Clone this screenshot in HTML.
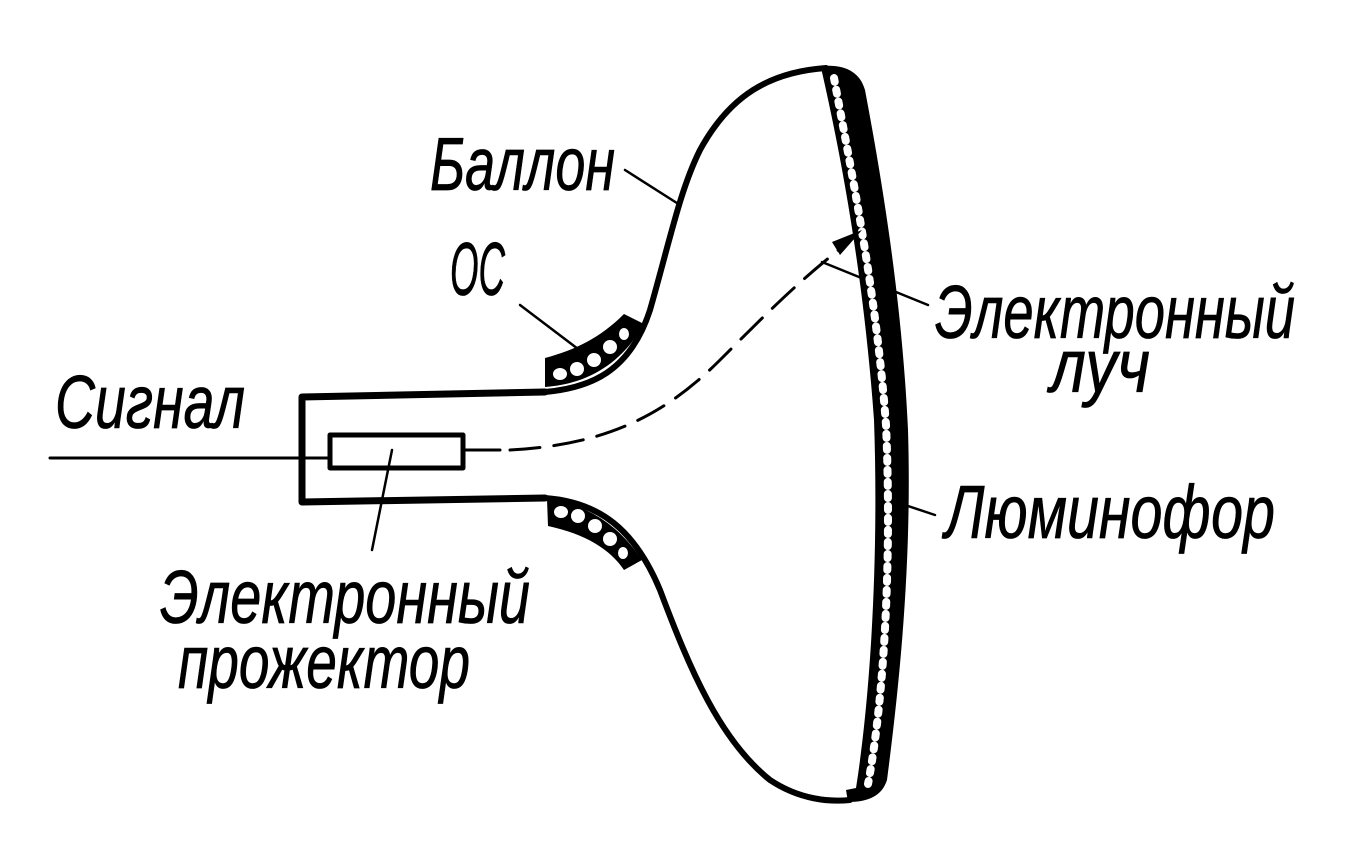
<!DOCTYPE html>
<html><head><meta charset="utf-8"><style>
html,body{margin:0;padding:0;background:#fff;}
svg{display:block;}
text{font-family:"Liberation Sans",sans-serif;font-style:italic;fill:#000;}
</style></head><body>
<svg width="1345" height="867" viewBox="0 0 1345 867" xmlns="http://www.w3.org/2000/svg">
<g fill="none" stroke="#000" stroke-linecap="round" stroke-linejoin="round">
<path d="M545,392 C590,388 630,372 650,310 C670,240 680,190 700,150 C730,95 770,72 826,68" stroke-width="6"/>
<path d="M545,498 C600,502 635,530 660,590 C690,670 720,740 770,780 C800,800 830,802 850,800" stroke-width="6"/>
<path d="M545,392 L302,397 L302,502 L545,498" stroke-width="7"/>
<rect x="330" y="435" width="133" height="33" stroke-width="5"/>
<path d="M50,458 L330,458" stroke-width="3"/>
<path d="M463,450 L500,450" stroke-width="3"/>
<path d="M510,450 C600,445 660,420 720,360 C770,310 800,280 845,245" stroke-width="3" stroke-dasharray="30 14"/>
<path d="M625,170 L680,205" stroke-width="2.5"/>
<path d="M520,305 L582,352" stroke-width="2.5"/>
<path d="M822,262 L928,305" stroke-width="2.5"/>
<path d="M905,505 L935,515" stroke-width="2.5"/>
<path d="M392,450 L372,550" stroke-width="2.5"/>
</g>
<path d="M822,66 C845,64 860,72 865,90 C882,180 902,300 908,430 C912,560 900,680 887,780 C882,796 868,802 848,802 L846,790 L856,788 C870,700 879,560 874,420 C864,280 842,160 822,72 Z" fill="#000"/>
<path d="M834,78 C851,170 876,290 886,425 C892,560 884,700 868,784" fill="none" stroke="#fff" stroke-width="8" stroke-linecap="round" stroke-dasharray="4 8"/>
<path d="M545,358 L545,387 C585,384 620,366 644,324 L624,314 C600,338 575,350 545,358 Z" fill="#000"/>
<path d="M547,499 L548,526 C585,534 610,549 624,570 L642,560 C620,527 590,505 547,499 Z" fill="#000"/>
<g fill="#fff">
<ellipse cx="560" cy="374" rx="7" ry="6"/><ellipse cx="577" cy="369" rx="7" ry="7"/><ellipse cx="594" cy="360" rx="7" ry="7"/><ellipse cx="610" cy="347" rx="7" ry="7"/><ellipse cx="624" cy="334" rx="5" ry="6"/>
<ellipse cx="561" cy="512" rx="7" ry="6"/><ellipse cx="578" cy="516" rx="7" ry="7"/><ellipse cx="595" cy="526" rx="7" ry="7"/><ellipse cx="610" cy="539" rx="7" ry="7"/><ellipse cx="623" cy="553" rx="5" ry="6"/>
</g>
<path d="M862,230 L840,255 L832,242 Z" fill="#000"/>
<g stroke="#000" stroke-width="0.6">
<text transform="translate(430,190) scale(1,1.3)" font-size="58" textLength="185" lengthAdjust="spacingAndGlyphs">Баллон</text>
<text transform="translate(450,295) scale(1,1.3)" font-size="58" textLength="55" lengthAdjust="spacingAndGlyphs">ОС</text>
<text transform="translate(55,428) scale(1,1.3)" font-size="58" textLength="190" lengthAdjust="spacingAndGlyphs">Сигнал</text>
<text transform="translate(935,338) scale(1,1.3)" font-size="58" textLength="360" lengthAdjust="spacingAndGlyphs">Электронный</text>
<text transform="translate(1050,392) scale(1,1.3)" font-size="58" textLength="100" lengthAdjust="spacingAndGlyphs">луч</text>
<text transform="translate(945,538) scale(1,1.3)" font-size="58" textLength="330" lengthAdjust="spacingAndGlyphs">Люминофор</text>
<text transform="translate(160,623) scale(1,1.3)" font-size="58" textLength="370" lengthAdjust="spacingAndGlyphs">Электронный</text>
<text transform="translate(178,688) scale(1,1.3)" font-size="58" textLength="292" lengthAdjust="spacingAndGlyphs">прожектор</text>
</g>
</svg>
</body></html>
